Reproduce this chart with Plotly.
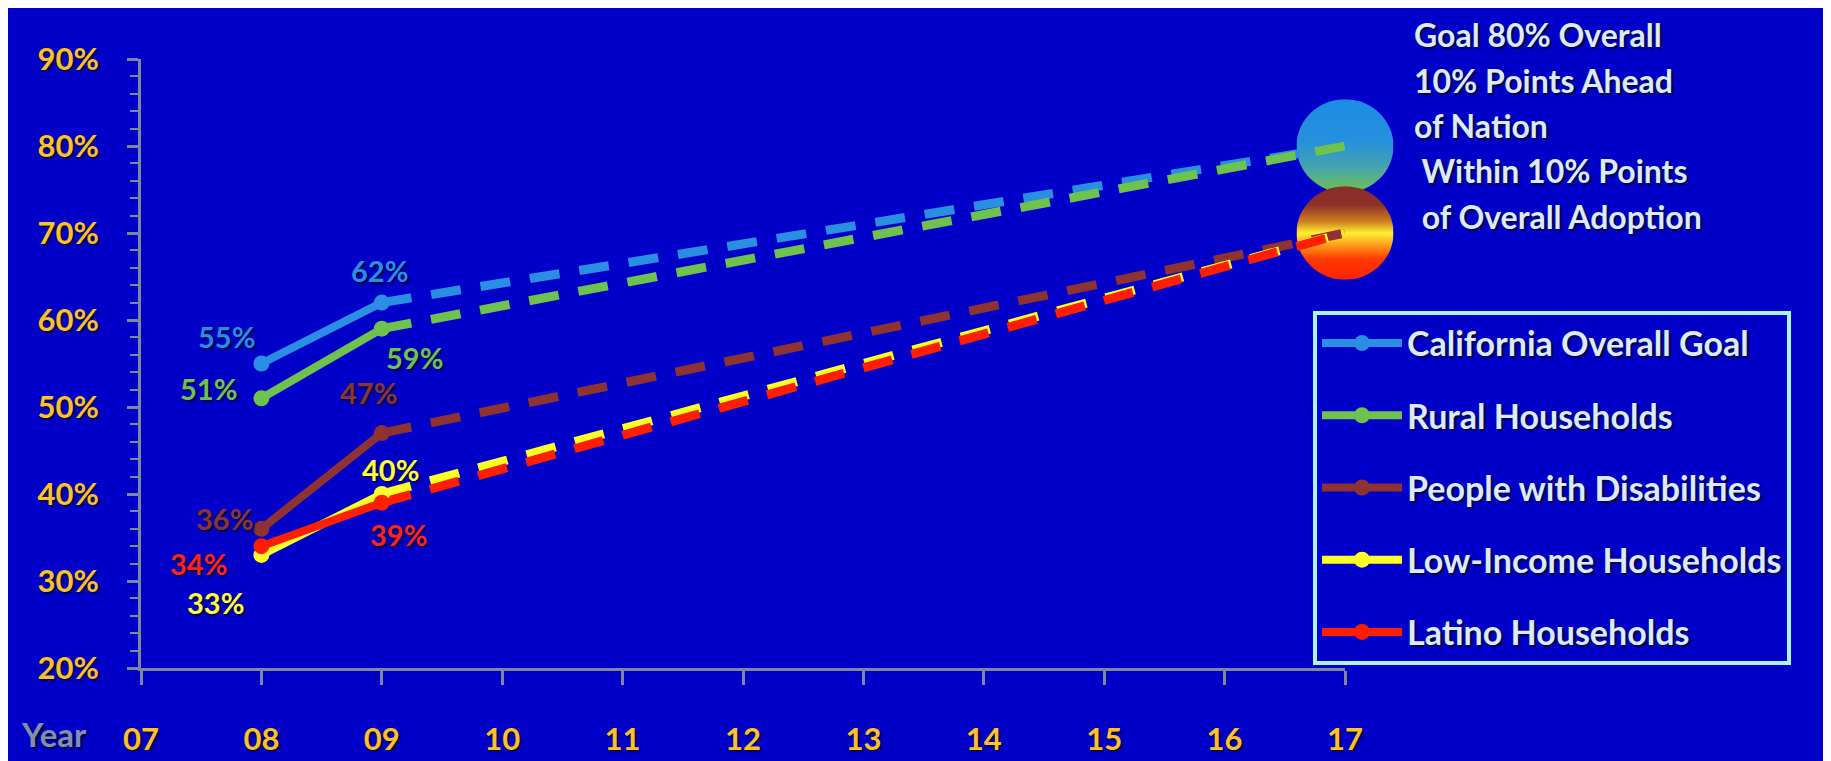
import base64
import plotly.graph_objects as go

# ---------------- data ----------------
series_names = ["California Overall Goal", "Rural Households", "People with Disabilities",
                "Low-Income Households", "Latino Households"]
actual_years = [8, 9]
goal_years = [9, 17]
overall_actual = [55, 62]
rural_actual = [51, 59]
disab_actual = [36, 47]
lowinc_actual = [33, 40]
latino_actual = [34, 39]
overall_goal = [62, 80]
rural_goal = [59, 80]
disab_goal = [47, 70]
lowinc_goal = [40, 70]
latino_goal = [39, 70]
x_ticks = [7, 8, 9, 10, 11, 12, 13, 14, 15, 16, 17]
x_tick_labels = ["07", "08", "09", "10", "11", "12", "13", "14", "15", "16", "17"]
y_ticks = [20, 30, 40, 50, 60, 70, 80, 90]
y_tick_labels = ["20%", "30%", "40%", "50%", "60%", "70%", "80%", "90%"]
goal_note_1 = ["Goal 80% Overall", "10% Points Ahead", "of Nation"]
goal_note_2 = [" Within 10% Points", " of Overall Adoption"]

colors = ["#2A8EE2", "#6EC24E", "#8E3232", "#FFFF28", "#FF1E00"]
label_colors = ["#2A8EE2", "#6EC24E", "#8A3434", "#FFFF3A", "#FF2410"]
actuals = [overall_actual, rural_actual, disab_actual, lowinc_actual, latino_actual]
goals = [overall_goal, rural_goal, disab_goal, lowinc_goal, latino_goal]

# label offsets (px) for [08, 09] per series
label_shifts = [[(-35, 27), (-2, 32)],
                [(-53, 10), (33, -29)],
                [(-37, 10), (-13, 41)],
                [(-46, -48), (9, 25)],
                [(-63, -17), (17, -32)]]

BG = "#0000C8"
AXIS = "#7D889A"
TICKCOL = "#FFC125"
PALE = "#DCEAFA"
SHADOW = "2px 2px 2px #00004A"
FONT = "Lato"

W, H = 1831, 761
ML, MR, MT, MB = 133, 494, 51, 78
PW, PH = W - ML - MR, H - MT - MB
XR = [7, 17]
YR = [20, 90]

fig = go.Figure()

for i, name in enumerate(series_names):
    fig.add_trace(go.Scatter(
        x=goal_years, y=goals[i], mode="lines", name=name, legendgroup=name,
        showlegend=False, cliponaxis=False, hoverinfo="skip",
        line=dict(color=colors[i], width=9, dash="30px,20px")))
for i, name in enumerate(series_names):
    fig.add_trace(go.Scatter(
        x=actual_years, y=actuals[i], mode="lines+markers", name=name, legendgroup=name,
        cliponaxis=False,
        line=dict(color=colors[i], width=8),
        marker=dict(color=colors[i], size=16)))

annotations = []
for i in range(len(series_names)):
    for j, (xv, yv) in enumerate(zip(actual_years, actuals[i])):
        dx, dy = label_shifts[i][j]
        annotations.append(dict(
            x=xv, y=yv, xref="x", yref="y", text=f"{yv}%", showarrow=False,
            xshift=dx, yshift=dy,
            font=dict(family=FONT, size=29, color=label_colors[i], weight="bold", shadow=SHADOW)))

# "Year" label
annotations.append(dict(x=XR[0], y=YR[0], xref="x", yref="y", text="Year", showarrow=False,
                        xanchor="right", yanchor="middle", xshift=-52, yshift=-66,
                        font=dict(family=FONT, size=33, color="#8090AC", weight="bold", shadow=SHADOW)))


def px_x(p):
    return (p - ML) / PW


def px_y(p):
    return (H - MB - p) / PH


note_font = dict(family=FONT, size=32, color=PALE, weight="bold", shadow=SHADOW)
for k, line in enumerate(goal_note_1 + goal_note_2):
    annotations.append(dict(x=px_x(1404), y=px_y(26 + 47 * k), xref="paper", yref="paper",
                            text=line.replace(" ", "&nbsp;", 1) if line.startswith(" ") else line,
                            showarrow=False, xanchor="left", yanchor="middle", font=note_font))


# gradient goal circles
def circle_svg(stops):
    st = "".join(f'<stop offset="{o}" stop-color="{c}"/>' for o, c in stops)
    svg = ('<svg xmlns="http://www.w3.org/2000/svg" width="100" height="100" viewBox="0 0 100 100">'
           '<defs><linearGradient id="g" x1="0" y1="0" x2="0" y2="1">' + st +
           '</linearGradient></defs><circle cx="50" cy="50" r="50" fill="url(#g)"/></svg>')
    return "data:image/svg+xml;base64," + base64.b64encode(svg.encode()).decode()


top_stops = [(0, "#1C8CE6"), (0.45, "#2590DC"), (0.75, "#4AA6A8"), (1, "#72C248")]
bot_stops = [(0, "#8A2C2C"), (0.2, "#8E3028"), (0.38, "#D08020"), (0.5, "#FFF030"),
             (0.6, "#FFB020"), (0.78, "#FF3800"), (1, "#FF2200")]
diam = 97
images = []
for val, stops in [(overall_goal[-1], top_stops), (disab_goal[-1], bot_stops)]:
    xc = (goal_years[-1] - XR[0]) / (XR[1] - XR[0])
    yc = (val - YR[0]) / (YR[1] - YR[0])
    images.append(dict(source=circle_svg(stops), xref="paper", yref="paper",
                       x=xc, y=yc, xanchor="center", yanchor="middle",
                       sizex=diam / PW, sizey=diam / PH, sizing="stretch", layer="below"))

fig.update_layout(
    width=W, height=H,
    margin=dict(l=ML, r=MR, t=MT, b=MB),
    paper_bgcolor=BG, plot_bgcolor=BG,
    showlegend=True,
    legend=dict(x=px_x(1305), y=px_y(312), xanchor="left", yanchor="top",
                bgcolor=BG, bordercolor="#A8F4F8", borderwidth=4,
                traceorder="grouped", tracegroupgap=25, itemwidth=80,
                font=dict(family=FONT, size=34, color=PALE, weight="bold", shadow=SHADOW)),
    xaxis=dict(range=XR, tickvals=x_ticks, ticktext=x_tick_labels, showgrid=False, zeroline=False,
               showline=True, linecolor=AXIS, linewidth=3, ticks="outside", ticklen=14,
               tickwidth=3, tickcolor=AXIS, ticklabelstandoff=28,
               tickfont=dict(family=FONT, size=31, color=TICKCOL, weight="bold", shadow=SHADOW)),
    yaxis=dict(range=YR, tickvals=y_ticks, ticktext=y_tick_labels, showgrid=False, zeroline=False,
               showline=True, linecolor=AXIS, linewidth=3, ticks="outside", ticklen=11,
               tickwidth=3, tickcolor=AXIS, ticklabelstandoff=22,
               minor=dict(dtick=2, ticks="outside", ticklen=8, tickwidth=2, tickcolor=AXIS),
               tickfont=dict(family=FONT, size=31, color=TICKCOL, weight="bold", shadow=SHADOW)),
    yaxis2=dict(range=YR, overlaying="y", side="left", anchor="x", tickvals=y_ticks,
                showticklabels=False, showgrid=False, zeroline=False, showline=False,
                ticks="inside", ticklen=13, tickwidth=3, tickcolor=AXIS),
    annotations=annotations,
    images=images,
)

fig.write_html("out.html")
